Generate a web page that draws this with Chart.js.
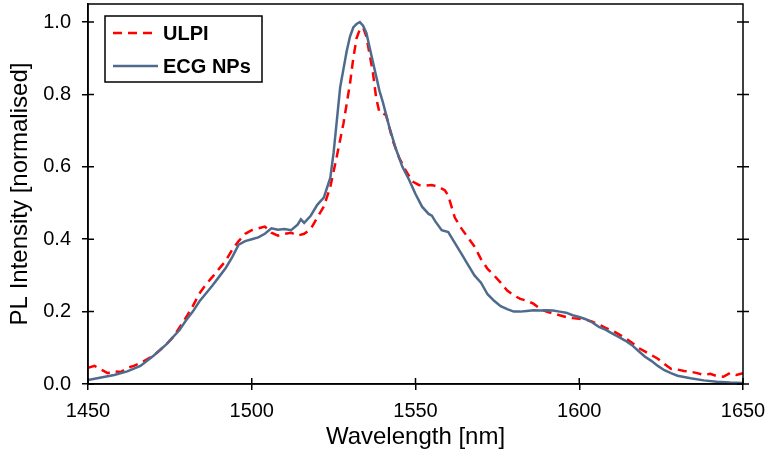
<!DOCTYPE html>
<html>
<head>
<meta charset="utf-8">
<style>
    html, body { margin: 0; padding: 0; background: #fff; }
    #wrap { width: 769px; height: 457px; }
</style>
</head>
<body>
<div id="wrap">
    <canvas id="plChart" width="769" height="457"></canvas>
</div>
<script src="https://cdn.jsdelivr.net/npm/chart.js"></script>
<script>
    // ULPI spectrum (red dashed)
    const ulpiWavelength = [1450,1452,1454,1456,1458,1460,1462,1464,1466,1468,1470,1472,1474,1476,1478,1480,1482,1484,1486,1488,1490,1492,1494,1496,1498,1500,1502,1504,1506,1508,1510,1512,1514,1516,1518,1520,1522,1524,1526,1528,1530,1531,1532,1533,1534,1535,1536,1537,1538,1539,1540,1541,1542,1543,1545,1547,1549,1551,1553,1555,1557,1559,1560,1561,1562,1564,1566,1568,1570,1572,1574,1576,1578,1580,1582,1584,1586,1588,1590,1592,1594,1596,1598,1600,1602,1604,1606,1608,1610,1612,1614,1616,1618,1620,1622,1624,1626,1628,1630,1632,1634,1636,1638,1640,1642,1644,1646,1648,1650];
    const ulpiIntensity = [0.045,0.05,0.04,0.03,0.035,0.033,0.045,0.05,0.058,0.068,0.078,0.094,0.11,0.13,0.157,0.185,0.215,0.25,0.275,0.296,0.318,0.34,0.37,0.395,0.415,0.425,0.43,0.435,0.418,0.41,0.415,0.418,0.41,0.415,0.428,0.46,0.49,0.545,0.63,0.72,0.83,0.9,0.955,0.98,0.985,0.96,0.91,0.86,0.79,0.75,0.748,0.743,0.71,0.674,0.625,0.59,0.56,0.55,0.548,0.55,0.545,0.535,0.52,0.49,0.46,0.43,0.405,0.38,0.345,0.318,0.3,0.28,0.258,0.245,0.235,0.23,0.222,0.208,0.2,0.195,0.19,0.185,0.182,0.18,0.178,0.172,0.165,0.155,0.148,0.138,0.127,0.115,0.1,0.09,0.08,0.07,0.055,0.042,0.04,0.036,0.034,0.03,0.025,0.028,0.022,0.02,0.03,0.025,0.03];

    // ECG NPs spectrum (blue solid)
    const ecgWavelength = [1450,1454,1458,1462,1466,1470,1474,1478,1480,1482,1484,1486,1488,1490,1492,1494,1496,1498,1500,1502,1504,1506,1508,1510,1512,1514,1515,1516,1518,1520,1522,1524,1525,1526,1527,1528,1529,1530,1531,1532,1533,1534,1535,1536,1537,1538,1539,1540,1541,1542,1543,1544,1546,1548,1550,1552,1554,1555,1556,1558,1560,1562,1564,1566,1568,1570,1572,1574,1576,1578,1580,1582,1584,1586,1588,1590,1592,1594,1596,1598,1600,1602,1604,1606,1608,1610,1612,1614,1616,1618,1620,1622,1624,1626,1628,1630,1634,1638,1642,1646,1650];
    const ecgIntensity = [0.011,0.018,0.025,0.035,0.05,0.078,0.11,0.15,0.177,0.2,0.228,0.25,0.272,0.296,0.32,0.35,0.385,0.395,0.4,0.405,0.415,0.43,0.426,0.428,0.425,0.44,0.455,0.445,0.465,0.495,0.515,0.57,0.64,0.73,0.82,0.87,0.92,0.96,0.985,0.995,1.0,0.99,0.97,0.93,0.89,0.85,0.81,0.78,0.745,0.71,0.68,0.65,0.6,0.565,0.525,0.49,0.47,0.465,0.45,0.425,0.42,0.39,0.36,0.33,0.3,0.28,0.248,0.23,0.215,0.207,0.2,0.2,0.202,0.204,0.203,0.204,0.203,0.2,0.197,0.19,0.185,0.179,0.17,0.158,0.15,0.14,0.13,0.12,0.108,0.092,0.076,0.064,0.05,0.038,0.03,0.023,0.016,0.01,0.006,0.004,0.003];

    const xTicks = [1450, 1500, 1550, 1600, 1650];
    const yTicks = [0.0, 0.2, 0.4, 0.6, 0.8, 1.0];

    const FONT = 'Liberation Sans, Arial, sans-serif';

    function toPoints(xs, ys) {
        return xs.map((x, i) => ({ x: x, y: ys[i] }));
    }

    // box round the plot, inner half of the cross ticks, and the legend
    const framePlugin = {
        id: 'frame',
        afterDraw(chart) {
            const c = chart.ctx;
            const a = chart.chartArea;
            const xs = chart.scales.x;
            const ys = chart.scales.y;
            c.save();
            c.strokeStyle = '#000';
            c.lineWidth = 1.5;
            c.strokeRect(a.left, a.top, a.right - a.left, a.bottom - a.top);
            c.beginPath();
            xTicks.forEach(v => {
                const px = xs.getPixelForValue(v);
                c.moveTo(px, a.bottom);
                c.lineTo(px, a.bottom - 6);
            });
            yTicks.forEach(v => {
                const py = ys.getPixelForValue(v);
                c.moveTo(a.left, py);
                c.lineTo(a.left + 6, py);
                c.moveTo(a.right - 6, py);
                c.lineTo(a.right + 6, py);
            });
            c.stroke();

            // legend box
            const lx = a.left + 17, ly = a.top + 12, lw = 157, lh = 66;
            c.fillStyle = '#fff';
            c.fillRect(lx, ly, lw, lh);
            c.lineWidth = 1.5;
            c.strokeRect(lx, ly, lw, lh);
            c.font = 'bold 20px ' + FONT;
            c.textBaseline = 'middle';
            chart.data.datasets.forEach((ds, i) => {
                const yy = ly + 17 + i * 33;
                c.beginPath();
                c.strokeStyle = ds.borderColor;
                c.lineWidth = 2.5;
                c.setLineDash(ds.borderDash || []);
                c.moveTo(lx + 8, yy);
                c.lineTo(lx + 53, yy);
                c.stroke();
                c.setLineDash([]);
                c.fillStyle = '#000';
                c.fillText(ds.label, lx + 58, yy + 1);
            });
            c.restore();
        }
    };

    new Chart(document.getElementById('plChart'), {
        type: 'line',
        data: {
            datasets: [{
                label: 'ULPI',
                data: toPoints(ulpiWavelength, ulpiIntensity),
                borderColor: '#ff0000',
                borderWidth: 2.5,
                borderDash: [9, 6],
                pointRadius: 0,
                order: 1
            }, {
                label: 'ECG NPs',
                data: toPoints(ecgWavelength, ecgIntensity),
                borderColor: '#4e6b8e',
                borderWidth: 2.5,
                pointRadius: 0,
                order: 0
            }]
        },
        options: {
            responsive: false,
            animation: false,
            layout: { padding: { top: 4, right: 0, bottom: 5, left: 6 } },
            plugins: {
                legend: { display: false },
                tooltip: { enabled: false }
            },
            scales: {
                x: {
                    type: 'linear',
                    min: 1450,
                    max: 1650,
                    afterBuildTicks: axis => { axis.ticks = xTicks.map(v => ({ value: v })); },
                    afterFit: axis => {
                        axis.height = 68;
                        axis.paddingLeft = 0;
                        axis.paddingRight = 26;
                    },
                    grid: { drawOnChartArea: false, tickLength: 6, color: '#000', lineWidth: 1.5 },
                    border: { color: '#000', width: 1.5 },
                    ticks: { color: '#000', padding: 9, maxRotation: 0, font: { size: 20, family: FONT }, callback: v => String(v) },
                    title: { display: true, text: 'Wavelength [nm]', color: '#000', padding: { top: 0, bottom: 0 }, font: { size: 24, family: FONT } }
                },
                y: {
                    min: 0,
                    max: 1.05,
                    afterBuildTicks: axis => { axis.ticks = yTicks.map(v => ({ value: v })); },
                    afterFit: axis => {
                        axis.width = 82;
                        axis.paddingTop = 0;
                        axis.paddingBottom = 0;
                    },
                    grid: { drawOnChartArea: false, tickLength: 6, color: '#000', lineWidth: 1.5 },
                    border: { color: '#000', width: 1.5 },
                    ticks: { color: '#000', padding: 11, font: { size: 20, family: FONT }, callback: v => v.toFixed(1) },
                    title: { display: true, text: 'PL Intensity [normalised]', color: '#000', padding: { top: 0, bottom: 4 }, font: { size: 24, family: FONT } }
                }
            }
        },
        plugins: [framePlugin]
    });
</script>
</body>
</html>
